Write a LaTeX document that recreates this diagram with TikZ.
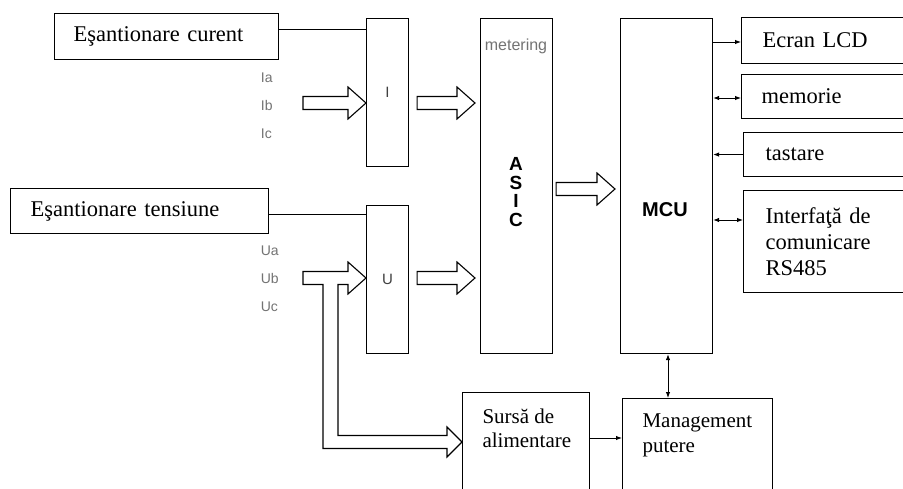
\documentclass[tikz,border=0pt]{standalone}
\usepackage{fontspec}
\setmainfont{Liberation Serif}
\setsansfont{Liberation Sans}
\usetikzlibrary{arrows.meta,calc}

% hollow block arrow, horizontal, from #1 to #2
\newcommand{\fatarrow}[2]{%
  \coordinate (fas) at (#1);
  \coordinate (fae) at (#2);
  \draw[fill=white] ($(fas)+(0,-6.5)$) -- ($(fae)+(-18,-6.5)$) -- ($(fae)+(-18,-16)$) -- (fae)
    -- ($(fae)+(-18,16)$) -- ($(fae)+(-18,6.5)$) -- ($(fas)+(0,6.5)$) -- cycle;}

\begin{document}
\begin{tikzpicture}[x=1pt, y=-1pt, line width=1.1pt, >={Latex[length=6pt,width=4.5pt]},
    box/.style={draw, anchor=north west, align=left, font=\fontsize{22.5}{26}\selectfont},
    blk/.style={draw, anchor=north west, minimum width=#1, inner sep=0pt},
    sig/.style={anchor=west, text=black!55, font=\sffamily\fontsize{14}{16}\selectfont},
    txt/.style={anchor=north west, inner sep=0pt, align=left, font=\fontsize{21}{24}\selectfont}]
  \useasboundingbox (0,0) rectangle (903,488);
  \fill[white] (0,0) rectangle (903,488);
  \clip (0,0) rectangle (903,488);

  % sampling boxes
  \node[box, text width=186pt, inner xsep=19pt, minimum height=46pt] (scur) at (54,13) {Eşantionare curent};
  \node[box, text width=218pt, inner xsep=20pt, minimum height=45pt] (sten) at (10,188) {Eşantionare tensiune};

  % I / U blocks
  \node[blk=42pt, minimum height=148pt, text=black!75, font=\sffamily\fontsize{15}{17}\selectfont] (i) at (366,18) {I};
  \node[blk=42pt, minimum height=148pt, text=black!75, font=\sffamily\fontsize{15}{17}\selectfont] (u) at (366,205) {U};
  \draw[line width=1pt] (scur.east |- 0,29) -- (i.west |- 0,29);
  \draw[line width=1pt] (sten.east |- 0,214) -- (u.west |- 0,214);

  \node[sig] (ia) at (257,78) {Ia};
  \node[sig] (ib) at (257,105) {Ib};
  \node[sig] (ic) at (257,134) {Ic};
  \node[sig] (ua) at (257,251) {Ua};
  \node[sig] (ubl) at (257,278) {Ub};
  \node[sig] (uc) at (257,307) {Uc};

  % ASIC and MCU
  \node[blk=72pt, minimum height=335pt] (asic) at (480,18) {};
  \node[anchor=center, text=black!55, font=\sffamily\fontsize{16}{18}\selectfont] (meter) at (516,46) {metering};
  \node[anchor=center, align=center, font=\sffamily\bfseries\fontsize{19}{18.5}\selectfont] (asicT) at (516,192) {A\\S\\I\\C};
  \node[blk=92pt, minimum height=335pt] (mcu) at (620,18) {};
  \node[anchor=center, font=\sffamily\bfseries\fontsize{20}{22}\selectfont] (mcuT) at (665,210) {MCU};

  % block arrows
  \coordinate (iin) at (303,103);
  \fatarrow{iin}{i.west |- iin}
  \fatarrow{$(i.east |- iin)+(8,0)$}{$(asic.west |- iin)+(-5,0)$}
  \coordinate (uin) at (303,278);
  \fatarrow{$(u.east |- uin)+(8,0)$}{$(asic.west |- uin)+(-5,0)$}
  \coordinate (amc) at (0,189);
  \fatarrow{$(asic.east |- amc)+(3,0)$}{$(mcu.west |- amc)+(-5,0)$}

  % peripherals
  \node[box, text width=147pt, inner xsep=21pt, minimum height=46pt] (lcd) at (741,17) {Ecran LCD};
  \node[box, text width=149pt, inner xsep=20pt, minimum height=44pt] (mem) at (741,74) {memorie};
  \node[box, text width=143pt, inner xsep=22pt, minimum height=44pt] (tast) at (743,132) {tastare};
  \node[box, text width=143pt, inner xsep=22pt, minimum height=102pt] (iface) at (743,190) {Interfaţă de\\comunicare\\RS485};
  \draw[->, line width=1pt] (mcu.east |- 0,42) -- (lcd.west |- 0,42);
  \draw[<->, line width=1pt] (mcu.east |- 0,98) -- (mem.west |- 0,98);
  \draw[<-, line width=1pt] (mcu.east |- tast) -- (tast);
  \draw[<->, line width=1pt] (mcu.east |- 0,220) -- (iface.west |- 0,220);

  % power
  \node[blk=127pt, minimum height=120pt] (sursa) at (462,392) {};
  \node[txt] (sursaT) at (482,408) {Sursă de\\alimentare};
  \node[blk=150pt, minimum height=120pt] (mgmt) at (622,398) {};
  \node[txt, font=\fontsize{21}{25}\selectfont] (mgmtT) at (642,413) {Management\\putere};
  \draw[->, line width=1pt] (sursa.east |- 0,438) -- (mgmt.west |- 0,438);
  \draw[<->, line width=1pt] (mcu.south -| 668,0) -- (mgmt.north -| 668,0);

  % Ub input with branch to the supply
  \coordinate (ps) at (sursa.west |- 0,442);
  \draw[fill=white] ($(uin)+(0,-6.5)$) -- ($(u.west |- uin)+(-18,-6.5)$) -- ($(u.west |- uin)+(-18,-16)$)
    -- (u.west |- uin) -- ($(u.west |- uin)+(-18,16)$) -- ($(u.west |- uin)+(-18,6.5)$)
    -- (338,284.5) -- ($(ps)+(-124,-6.5)$) -- ($(ps)+(-15,-6.5)$) -- ($(ps)+(-15,-15)$) -- (ps)
    -- ($(ps)+(-15,15)$) -- ($(ps)+(-15,6.5)$) -- ($(ps)+(-139,6.5)$) -- (323,284.5)
    -- ($(uin)+(0,6.5)$) -- cycle;
\end{tikzpicture}
\end{document}
